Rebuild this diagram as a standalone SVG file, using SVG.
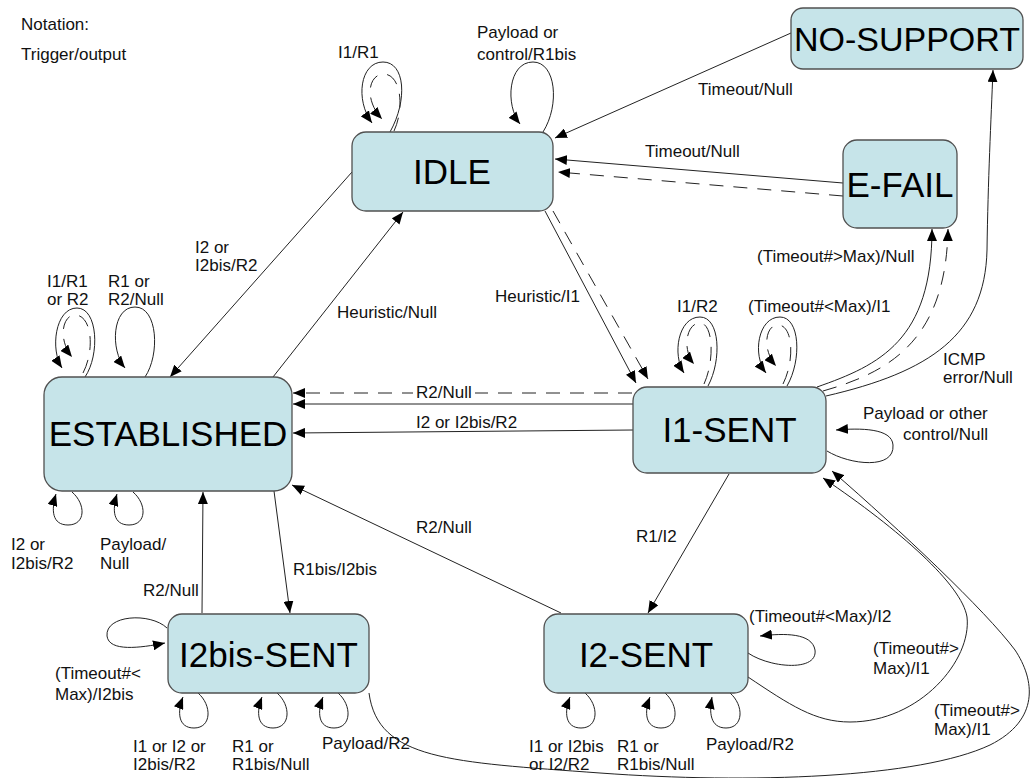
<svg xmlns="http://www.w3.org/2000/svg" width="1032" height="778" viewBox="0 0 1032 778">
<defs>
<marker id="ah" viewBox="0 0 12 10" refX="12" refY="5" markerWidth="12" markerHeight="10" markerUnits="userSpaceOnUse" orient="auto"><path d="M0,0 L12,5 L0,10 z" fill="#000"/></marker>
</defs>
<style>
.node rect{fill:#c6e4e9;stroke:#505050;stroke-width:1.3}
.node text{font-family:"Liberation Sans",Arial,sans-serif;font-size:35px;fill:#000;text-anchor:middle}
.c{fill:none;stroke:#222;stroke-width:1;marker-end:url(#ah)}
.d{stroke-dasharray:14 10}
.lbl text{font-family:"Liberation Sans",Arial,sans-serif;font-size:17px;fill:#111}
</style>
<rect width="1032" height="778" fill="#fff"/>
<g id="connectors">
<path class="c" d="M791 33 L555 138"/>
<path class="c" d="M843 183 L555 159"/>
<path class="c d" d="M843 196 L558 172"/>
<path class="c" d="M545 211 L636 383"/>
<path class="c d" d="M553 211 L648 379"/>
<path class="c" d="M273 377 L403 212"/>
<path class="c" d="M352 172 L170 377"/>
<path class="c d" d="M632 393 L293 393"/>
<path class="c" d="M633 404 L293 404"/>
<path class="c" d="M633 430 L293 433"/>
<path class="c" d="M729 474 L648 613"/>
<path class="c" d="M561 613 L292 485"/>
<path class="c" d="M274 491 L290 613"/>
<path class="c" d="M202 613 L203 492"/>
<path class="c" d="M817 387 C880 365 932 340 932 229"/>
<path class="c d" d="M823 391 C890 372 946 340 948 229"/>
<path class="c" d="M826 396 C930 372 985 335 987 250 C988 180 991 120 993 70"/>
<path class="c" d="M748 677 C790 705 815 722 850 722 C920 722 972 660 967 617 C962 585 900 530 823 478"/>
<path class="c" d="M369 693 C378 760 450 762 600 773 C750 784 920 778 990 745 C1040 720 1035 680 1015 650 C985 610 900 530 832 471"/>
<path class="c" d="M390 132 C408 100 405 62 383 62 C360 62 355 100 372 123"/>
<path class="c d" d="M394 131 C404 110 402 75 384 74 C368 74 364 100 382 119"/>
<path class="c" d="M543 132 C560 105 556 62 533 62 C508 62 505 105 520 124"/>
<path class="c" d="M85 377 C100 355 98 308 77 308 C55 308 50 350 62 368"/>
<path class="c d" d="M83 373 C95 350 92 315 75 315 C62 315 58 340 72 357"/>
<path class="c" d="M145 377 C160 355 158 307 135 307 C112 307 110 350 125 368"/>
<path class="c" d="M72 492 C86 504 86 525 68 525 C52 525 51 510 56 494"/>
<path class="c" d="M133 492 C147 504 147 525 129 525 C113 525 112 510 117 494"/>
<path class="c" d="M708 386 C722 360 720 317 700 317 C678 317 672 355 684 373"/>
<path class="c d" d="M704 384 C715 360 713 323 700 323 C686 323 682 350 694 364"/>
<path class="c" d="M787 386 C802 360 800 317 780 317 C758 317 752 355 766 373"/>
<path class="c d" d="M783 384 C795 360 793 325 778 325 C765 325 762 350 776 366"/>
<path class="c" d="M827 451 C850 465 895 470 893 445 C892 428 860 428 836 430"/>
<path class="c" d="M748 653 C770 668 818 672 815 650 C812 633 785 633 760 636"/>
<path class="c" d="M585 693 C599 705 599 728 581 728 C565 728 564 712 570 697"/>
<path class="c" d="M665 693 C679 705 679 728 661 728 C645 728 644 712 650 697"/>
<path class="c" d="M730 693 C744 705 744 728 726 728 C710 728 709 712 712 697"/>
<path class="c" d="M167 628 C150 612 105 615 107 636 C109 652 140 648 165 643"/>
<path class="c" d="M198 693 C212 705 212 728 194 728 C178 728 177 712 183 697"/>
<path class="c" d="M277 693 C291 705 291 728 273 728 C257 728 256 712 262 697"/>
<path class="c" d="M338 693 C352 705 352 728 334 728 C318 728 317 712 323 697"/>
</g>
<g id="labels" class="lbl">
<rect x="413" y="384" width="62" height="16" fill="#fff"/>
<text x="21" y="30">Notation:</text>
<text x="21" y="60">Trigger/output</text>
<text x="338" y="58">I1/R1</text>
<text x="477" y="38">Payload or</text>
<text x="477" y="60">control/R1bis</text>
<text x="698" y="95">Timeout/Null</text>
<text x="645" y="157">Timeout/Null</text>
<text x="195" y="253">I2 or</text>
<text x="195" y="271">I2bis/R2</text>
<text x="47" y="287">I1/R1</text>
<text x="47" y="305">or R2</text>
<text x="108" y="287">R1 or</text>
<text x="108" y="305">R2/Null</text>
<text x="337" y="318">Heuristic/Null</text>
<text x="495" y="302">Heuristic/I1</text>
<text x="677" y="312">I1/R2</text>
<text x="748" y="312">(Timeout#&lt;Max)/I1</text>
<text x="757" y="262">(Timeout#&gt;Max)/Null</text>
<text x="943" y="365">ICMP</text>
<text x="943" y="383">error/Null</text>
<text x="863" y="419">Payload or other</text>
<text x="903" y="440">control/Null</text>
<text x="416" y="398">R2/Null</text>
<text x="416" y="428">I2 or I2bis/R2</text>
<text x="416" y="533">R2/Null</text>
<text x="636" y="542">R1/I2</text>
<text x="293" y="575">R1bis/I2bis</text>
<text x="143" y="596">R2/Null</text>
<text x="11" y="550">I2 or</text>
<text x="11" y="569">I2bis/R2</text>
<text x="100" y="550">Payload/</text>
<text x="100" y="569">Null</text>
<text x="55" y="679">(Timeout#&lt;</text>
<text x="55" y="700">Max)/I2bis</text>
<text x="133" y="752">I1 or I2 or</text>
<text x="133" y="770">I2bis/R2</text>
<text x="232" y="752">R1 or</text>
<text x="232" y="770">R1bis/Null</text>
<text x="322" y="749">Payload/R2</text>
<text x="529" y="752">I1 or I2bis</text>
<text x="529" y="770">or I2/R2</text>
<text x="617" y="752">R1 or</text>
<text x="617" y="770">R1bis/Null</text>
<text x="706" y="750">Payload/R2</text>
<text x="749" y="622">(Timeout#&lt;Max)/I2</text>
<text x="873" y="654">(Timeout#&gt;</text>
<text x="873" y="674">Max)/I1</text>
<text x="934" y="716">(Timeout#&gt;</text>
<text x="934" y="735">Max)/I1</text>
</g>
<g id="IDLE" class="node"><rect x="352" y="132" width="201" height="79" rx="14"/><text x="452" y="184">IDLE</text></g>
<g id="NO-SUPPORT" class="node"><rect x="791" y="8" width="232" height="61" rx="12"/><text x="907" y="51" style="font-size:34px">NO-SUPPORT</text></g>
<g id="E-FAIL" class="node"><rect x="843" y="140" width="114" height="88" rx="14"/><text x="900" y="197">E-FAIL</text></g>
<g id="ESTABLISHED" class="node"><rect x="44" y="377" width="248" height="114" rx="18"/><text x="168" y="446">ESTABLISHED</text></g>
<g id="I1-SENT" class="node"><rect x="633" y="387" width="193" height="86" rx="14"/><text x="729.5" y="442">I1-SENT</text></g>
<g id="I2bis-SENT" class="node"><rect x="168" y="614" width="201" height="79" rx="14"/><text x="268.5" y="667">I2bis-SENT</text></g>
<g id="I2-SENT" class="node"><rect x="544" y="614" width="204" height="79" rx="14"/><text x="646" y="667">I2-SENT</text></g>
</svg>
